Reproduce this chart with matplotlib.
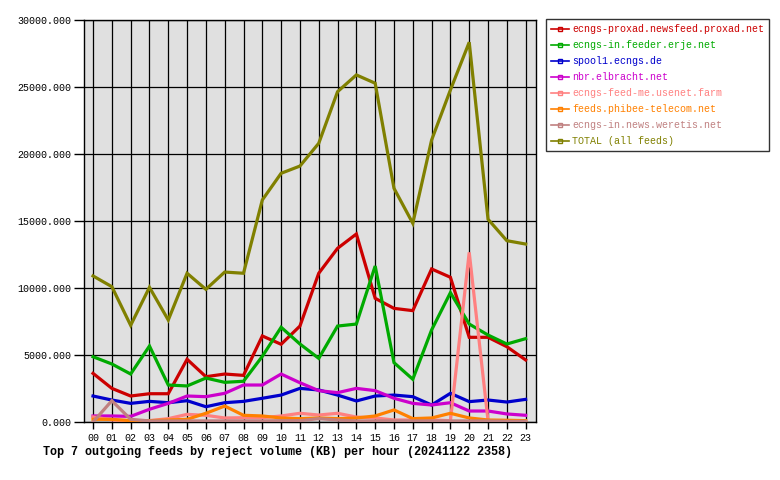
import matplotlib
matplotlib.use('Agg')
import matplotlib.pyplot as plt
from matplotlib.lines import Line2D

hours = ['%02d' % h for h in range(24)]

# KB per hour
proxad = [3630, 2510, 1940, 2110, 2110, 4680, 3380, 3580, 3480, 6420, 5800, 7160,
          11100, 12960, 14030, 9230, 8480, 8310, 11420, 10800, 6320, 6320, 5620, 4630]
erje = [4870, 4330, 3580, 5670, 2760, 2690, 3280, 2960, 3040, 4900, 7070, 5820,
        4750, 7160, 7310, 11640, 4430, 3190, 6870, 9650, 7310, 6490, 5820, 6220]
spool1 = [1940, 1640, 1390, 1540, 1440, 1590, 1140, 1440, 1540, 1770, 2010, 2510,
          2390, 2010, 1570, 1940, 2010, 1890, 1270, 2140, 1520, 1640, 1490, 1690]
elbracht = [450, 450, 420, 950, 1390, 1940, 1890, 2140, 2760, 2760, 3580, 2930,
            2340, 2190, 2510, 2340, 1770, 1390, 1270, 1440, 820, 820, 600, 500]
usenetfarm = [380, 150, 100, 100, 250, 570, 500, 300, 320, 320, 450, 650,
              520, 650, 370, 300, 150, 150, 150, 100, 12660, 100, 80, 80]
phibee = [200, 200, 100, 100, 150, 200, 650, 1190, 500, 450, 300, 250,
          300, 250, 300, 450, 900, 250, 300, 650, 300, 150, 130, 100]
weretis = [0, 1590, 200, 80, 80, 80, 80, 80, 80, 80, 100, 100,
           250, 150, 80, 80, 80, 80, 80, 80, 80, 80, 50, 50]
total = [10900, 10100, 7215, 10050, 7610, 11100, 9900, 11190, 11100, 16570, 18560, 19100,
         20800, 24650, 25900, 25280, 17440, 14830, 21040, 24780, 28340, 15130, 13530, 13280]

names = ['ecngs-proxad.newsfeed.proxad.net', 'ecngs-in.feeder.erje.net', 'spool1.ecngs.de',
         'nbr.elbracht.net', 'ecngs-feed-me.usenet.farm', 'feeds.phibee-telecom.net',
         'ecngs-in.news.weretis.net', 'TOTAL (all feeds)']
series = [proxad, erje, spool1, elbracht, usenetfarm, phibee, weretis, total]
colors = ['#cc0000', '#00aa00', '#0000cc', '#cc00cc', '#ff8080', '#ff8000', '#c08080', '#808000']

plt.rcParams['font.family'] = ['Liberation Mono', 'DejaVu Sans Mono']

fig = plt.figure(figsize=(7.8, 4.8), dpi=100)
ax = fig.add_axes([84/780, 58/480, 452/780, 402/480])
ax.set_facecolor('#e0e0e0')

x = list(range(len(hours)))
for i in range(len(series)):
    ax.plot(x, series[i], color=colors[i], lw=2.3, solid_joinstyle='miter', zorder=3)

ax.set_xlim(-0.48, 23.55)
ax.set_ylim(0, 30000)
ax.set_xticks(x)
ax.set_xticklabels(hours)
ax.set_yticks(range(0, 30001, 5000))
ax.set_yticklabels(['%d.000' % v for v in range(0, 30001, 5000)])
ax.tick_params(axis='y', direction='out', length=7, width=1, labelsize=7.2, pad=2)
ax.tick_params(axis='x', direction='out', length=5, width=1, labelsize=7.2, pad=3)
ax.grid(True, color='black', lw=0.9)
ax.set_axisbelow(True)
for s in ax.spines.values():
    s.set_color('black')
    s.set_linewidth(1)

handles = [Line2D([0], [0], color=colors[i], lw=1.2, marker='s', markersize=2.5,
                  markerfacecolor='none', markeredgecolor=colors[i]) for i in range(len(names))]
leg = fig.legend(handles, names, loc='upper left', bbox_to_anchor=(546/780, 1 - 19/480),
                 fontsize=7.2, frameon=True, fancybox=False, edgecolor='black',
                 handlelength=1.8, handletextpad=0.3, labelspacing=0.6, borderpad=0.5,
                 numpoints=1, borderaxespad=0)
leg.get_frame().set_linewidth(1)
for t, c in zip(leg.get_texts(), colors):
    t.set_color(c)

fig.text(43/780, 1 - 452/480, 'Top 7 outgoing feeds by reject volume (KB) per hour (20241122 2358)',
         fontsize=8.45, fontweight='bold', ha='left', va='center')

fig.savefig('out.png', dpi=100)
